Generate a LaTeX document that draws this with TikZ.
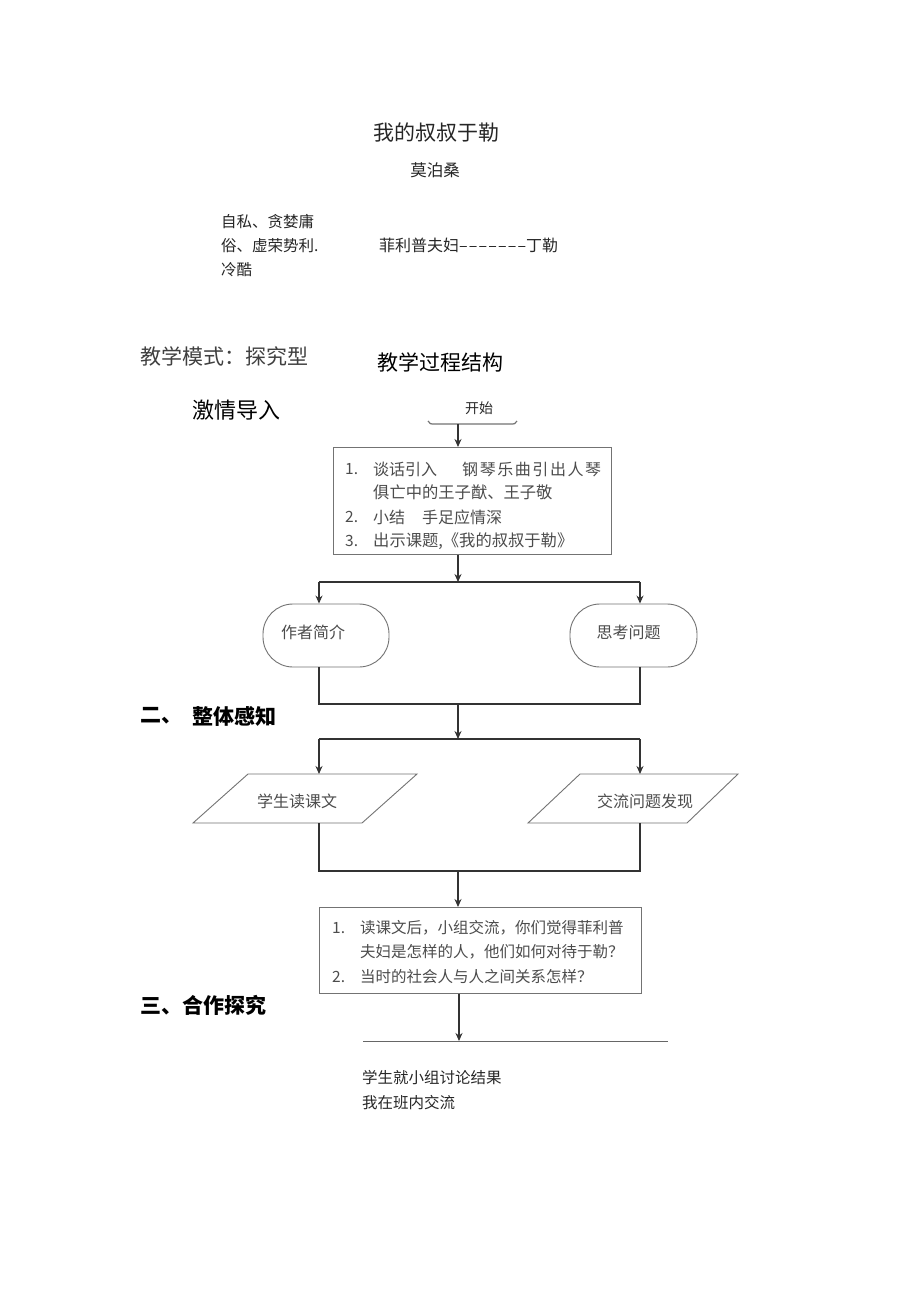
\documentclass[tikz,border=0pt]{standalone}
\usepackage{fontspec}
\setmainfont{Noto Sans CJK SC}
\usetikzlibrary{arrows.meta,calc}
\newcommand\myfs[1]{\fontsize{#1}{#1}\selectfont}
\begin{document}
\begin{tikzpicture}[x=1pt,y=-1pt,
  txt/.style={inner sep=0pt, anchor=west, text=black!85},
  ctxt/.style={inner sep=0pt, text=black!85},
  btxt/.style={inner sep=0pt, anchor=west, text=black!70, font=\myfs{15.5}},
  boxline/.style={draw=black!55, line width=0.9pt},
  conn/.style={draw=black!80, line width=1.2pt},
  arr/.style={conn, -{Stealth[length=8pt,width=7pt]}},
  head/.style={inner sep=0pt, anchor=west, text=black, font=\myfs{21}\bfseries},
]
\useasboundingbox (0,0) rectangle (920,1301);
\fill[white] (0,0) rectangle (920,1301);

% titles
\node[ctxt, font=\myfs{21}] (title) at (436,133) {我的叔叔于勒};
\node[ctxt, font=\myfs{16.5}] (author) at (435,170) {莫泊桑};
\node[txt, font=\myfs{15.5}] (l1) at (221,222) {自私、贪婪庸};
\node[txt, font=\myfs{15.5}] (l2) at (221,246) {俗、虚荣势利.};
\node[txt, font=\myfs{15.5}] (l3) at (221,270) {冷酷};
\node[txt, font=\myfs{16}] (fl) at (379,245) {菲利普夫妇\makebox[67pt][s]{--\hfill--\hfill--\hfill--\hfill--\hfill--\hfill--}丁勒};

\node[txt, font=\myfs{21}, text=black!75] (mode) at (140,356) {教学模式：探究型};
\node[ctxt, font=\myfs{21}, text=black] (struct) at (440,362) {教学过程结构};
\node[txt, font=\myfs{22}, text=black] (s1) at (192,410) {激情导入};
\node[head] (s2a) at (140,716) {二、};
\node[head] (s2) at (192,716) {整体感知};
\node[head] (s3) at (140,1005) {三、合作探究};

% start
\node[ctxt, font=\myfs{14}] (start) at (479,408) {开始};
\draw[boxline, line width=1.2pt] (428,421) .. controls (430,424) .. (435,424) -- (510,424) .. controls (515,424) .. (517,421);
\coordinate (s) at (458,424);

% box 1
\node[boxline, minimum width=278pt, minimum height=107pt, anchor=north west, inner sep=0pt] (b1) at (333,447) {};
\node[btxt] (b1n1) at (345,469) {1.};
\node[btxt, font=\myfs{16}] (b1t1) at (373,469) {谈话引入};
\node[btxt, font=\myfs{16}] (b1t1b) at (462,469) {\makebox[139pt][s]{钢\hfill 琴\hfill 乐\hfill 曲\hfill 引\hfill 出\hfill 人\hfill 琴}};
\node[btxt, font=\myfs{16.3}] (b1t2) at (373,492) {俱亡中的王子猷、王子敬};
\node[btxt] (b1n2) at (345,517) {2.};
\node[btxt, font=\myfs{16}] (b1t3) at (373,517) {小结};
\node[btxt, font=\myfs{16}] (b1t3b) at (422,517) {手足应情深};
\node[btxt] (b1n3) at (345,541) {3.};
\node[btxt, font=\myfs{16.3}] (b1t4) at (373,541) {出示课题,《我的叔叔于勒》};
\draw[arr] (s) -- (s |- b1.north);

% branch 1
\coordinate (j1) at (458,582);
\coordinate (jl1) at (319,582);
\coordinate (jr1) at (640,582);
\draw[arr] (j1 |- b1.south) -- (j1);
\draw[conn] (jl1) -- (jr1);
\node[boxline, rounded corners=30pt, minimum width=126pt, minimum height=63pt, inner sep=0pt] (zz) at (326,635.5) {};
\node[boxline, rounded corners=30pt, minimum width=127pt, minimum height=63pt, inner sep=0pt] (sk) at (633.5,635.5) {};
\node[ctxt, font=\myfs{16}, text=black!70] (zzt) at (313,632) {作者简介};
\node[ctxt, font=\myfs{16}, text=black!70] (skt) at (628.5,632) {思考问题};
\draw[arr] (jl1) -- (jl1 |- zz.north);
\draw[arr] (jr1) -- (jr1 |- sk.north);
\coordinate (jl2) at (319,704);
\coordinate (jr2) at (640,704);
\coordinate (j2) at (458,704);
\draw[conn] (jl1 |- zz.south) -- (jl2) -- (jr2) -- (jr1 |- sk.south);

% branch 2
\coordinate (j3) at (458,739);
\coordinate (jl3) at (319,739);
\coordinate (jr3) at (640,739);
\draw[arr] (j2) -- (j3);
\draw[conn] (jl3) -- (jr3);
\draw[boxline] (248,774) -- (417,774) -- (362,823) -- (193,823) -- cycle;
\draw[boxline] (580,774) -- (738,774) -- (687,823) -- (528,823) -- cycle;
\node[ctxt, font=\myfs{16}, text=black!70] (rd) at (297,801) {学生读课文};
\node[ctxt, font=\myfs{16}, text=black!70] (jlw) at (645,801) {交流问题发现};
\coordinate (plt) at (319,774);
\coordinate (prt) at (640,774);
\draw[arr] (jl3) -- (plt);
\draw[arr] (jr3) -- (prt);
\coordinate (plb) at (319,823);
\coordinate (prb) at (640,823);
\coordinate (jl4) at (319,871);
\coordinate (jr4) at (640,871);
\coordinate (j4) at (458,871);
\draw[conn] (plb) -- (jl4) -- (jr4) -- (prb);

% box 3
\node[boxline, minimum width=322pt, minimum height=86pt, anchor=north west, inner sep=0pt] (b3) at (319,907) {};
\draw[arr] (j4) -- (j4 |- b3.north);
\node[btxt] (b3n1) at (332,928) {1.};
\node[btxt] (b3t1) at (360,928) {读课文后，小组交流，你们觉得菲利普};
\node[btxt] (b3t2) at (360,952) {夫妇是怎样的人，他们如何对待于勒？};
\node[btxt] (b3n2) at (332,977) {2.};
\node[btxt] (b3t3) at (360,977) {当时的社会人与人之间关系怎样？};

% bottom
\coordinate (bl) at (363,1041);
\coordinate (br) at (668,1041);
\coordinate (j5) at (459,1041);
\draw[arr] (j5 |- b3.south) -- (j5);
\draw[draw=black!60, line width=1pt] (bl) -- (br);
\node[txt, font=\myfs{15.5}] (e1) at (362,1078) {学生就小组讨论结果};
\node[txt, font=\myfs{15.5}] (e2) at (362,1103) {我在班内交流};
\end{tikzpicture}
\end{document}
